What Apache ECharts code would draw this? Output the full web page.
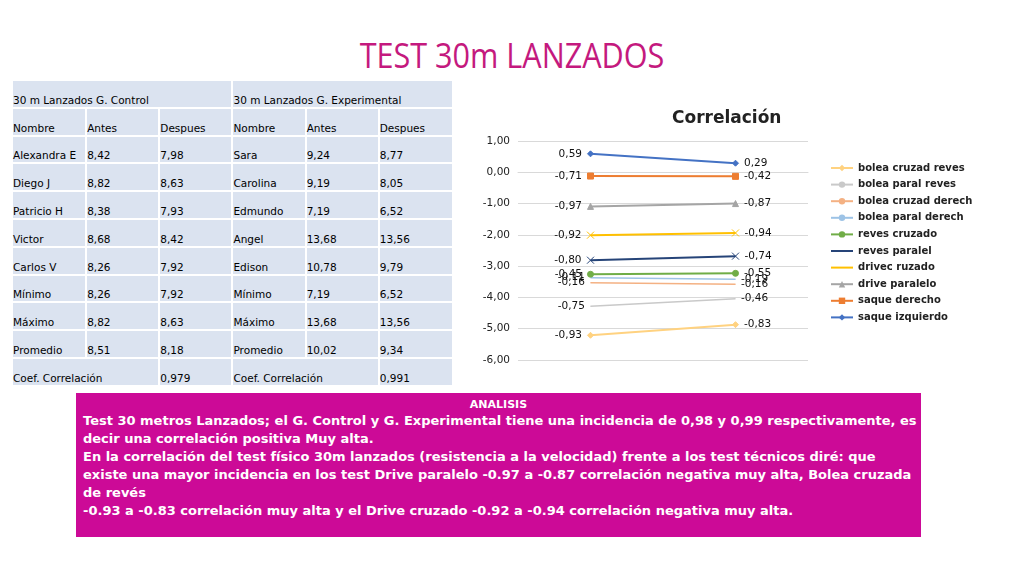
<!DOCTYPE html>
<html><head><meta charset="utf-8">
<script src="https://cdn.jsdelivr.net/npm/echarts@6/dist/echarts.min.js"></script>
<style>
body{margin:0;width:1024px;height:576px;background:#fff;font-family:"Open Sans","DejaVu Sans",sans-serif;position:relative;overflow:hidden}
#title{position:absolute;top:32px;left:0;width:1024px;text-align:center;color:#c4197e;font-size:34px;font-family:"Open Sans",sans-serif;transform:scaleX(0.9)}
table{position:absolute;left:13px;top:81px;width:439px;table-layout:fixed;border-collapse:collapse;font-size:10.5px;font-family:"DejaVu Sans",sans-serif;color:#000}
td{background:#dbe3f0;height:24.8px;padding:0;border-bottom:2px solid #fff;vertical-align:bottom;padding-bottom:1px;white-space:nowrap;overflow:visible}
td.s{border-right:2px solid #fff}
#chart{position:absolute;left:470px;top:100px;width:540px;height:280px}
#box{position:absolute;left:76px;top:393px;width:845px;height:144px;background:#cc0a97;color:#fff;font-family:"DejaVu Sans",sans-serif;font-weight:bold}
#box .h{text-align:center;font-size:11px;margin-top:5px}
#box .t{font-size:13px;line-height:18px;padding-left:7px;margin-top:1px}
</style></head><body>
<div id="title">TEST 30m LANZADOS</div>
<table id="tbl"></table>
<div id="chart"></div>
<div id="box"><div class="h">ANALISIS</div><div class="t">Test 30 metros Lanzados; el G. Control y G. Experimental tiene una incidencia de 0,98 y 0,99 respectivamente, es decir una correlación positiva Muy alta.<br>En la correlación del test físico 30m lanzados (resistencia a la velocidad) frente a los test técnicos diré: que existe una mayor incidencia en los test Drive paralelo -0.97 a -0.87 correlación negativa muy alta, Bolea cruzada de revés<br>-0.93 a -0.83 correlación muy alta y el Drive cruzado -0.92 a -0.94 correlación negativa muy alta.</div></div>
<script>
// table data
const headerRow = ["Nombre","Antes","Despues","Nombre","Antes","Despues"];
const controlNames = ["Alexandra E","Diego J","Patricio H","Victor","Carlos V","Mínimo","Máximo","Promedio"];
const controlAntes = ["8,42","8,82","8,38","8,68","8,26","8,26","8,82","8,51"];
const controlDespues = ["7,98","8,63","7,93","8,42","7,92","7,92","8,63","8,18"];
const expNames = ["Sara","Carolina","Edmundo","Angel","Edison","Mínimo","Máximo","Promedio"];
const expAntes = ["9,24","9,19","7,19","13,68","10,78","7,19","13,68","10,02"];
const expDespues = ["8,77","8,05","6,52","13,56","9,79","6,52","13,56","9,34"];
const coefControl = "0,979", coefExp = "0,991";

// chart data (stack order: first = top)
const categories = ["Antes","Despues"];
const seriesNames = ["saque izquierdo","saque derecho","drive paralelo","drivec ruzado","reves paralel","reves cruzado","bolea paral derech","bolea cruzad derech","bolea paral reves","bolea cruzad reves"];
const valAntes = [0.59,-0.71,-0.97,-0.92,-0.80,-0.45,-0.11,-0.16,-0.75,-0.93];
const valDespues = [0.29,-0.42,-0.87,-0.94,-0.74,-0.55,-0.19,-0.16,-0.46,-0.83];
const legendOrder = ["bolea cruzad reves","bolea paral reves","bolea cruzad derech","bolea paral derech","reves cruzado","reves paralel","drivec ruzado","drive paralelo","saque derecho","saque izquierdo"];
const colors = ["#4472c4","#ed7d31","#a5a5a5","#ffc000","#264478","#70ad47","#9dc3e6","#f4b183","#c9c9c9","#ffd280"];
const symbols = ["diamond","rect","triangle","path://M0,0L10,10M10,0L0,10","path://M0,0L10,10M10,0L0,10","circle","none","none","none","diamond"];
// label offsets [left point, right point]
const offA = [[-10,-8],[-10,-2],[-10,-4],[-10,0],[-10,-6],[30,-14],[-8,-4],[-8,4],[-8,2],[-8,0]];
const offB = [[-14,-14],[-2,-2],[6,6],[6,-14],[6,-6],[6,-6],[6,-4],[6,8],[6,4],[6,-10]];

let html='<colgroup>'+'<col style="width:73px">'.repeat(6)+'</colgroup>';
html+='<tr><td colspan="3" class="s">30 m Lanzados G. Control</td><td colspan="3">30 m Lanzados G. Experimental</td></tr><tr>';
headerRow.forEach((h,i)=>html+=`<td class="${i==2||i==5?(i==2?'s':''):'s'}">${h}</td>`);
html+='</tr>';
for(let i=0;i<controlNames.length;i++){
 html+=`<tr><td class="s">${controlNames[i]}</td><td class="s">${controlAntes[i]}</td><td class="s">${controlDespues[i]}</td><td class="s">${expNames[i]}</td><td class="s">${expAntes[i]}</td><td>${expDespues[i]}</td></tr>`;
}
html+=`<tr><td colspan="2" class="s">Coef. Correlación</td><td class="s">${coefControl}</td><td colspan="2" class="s">Coef. Correlación</td><td>${coefExp}</td></tr>`;
document.getElementById('tbl').innerHTML=html;

const fmt=v=>v.toFixed(2).replace('.',',');
const series = seriesNames.map((n,i)=>{
  const none = symbols[i]==='none';
  return {
  name:n,type:'line',stack:'s',stackStrategy:'all',
  data:[
    {value:valAntes[i],label:{position:'left',offset:offA[i]}},
    {value:valDespues[i],label:{position:'right',offset:offB[i]}}
  ],
  symbol:none?'circle':symbols[i],symbolSize:none?0.1:(symbols[i].startsWith('path')?7:6),
  lineStyle:{color:colors[i],width:i>=6&&i<=8?1.5:2},
  itemStyle:{color:colors[i],borderColor:colors[i]},
  labelLayout:{hideOverlap:false},
  label:{show:true,formatter:p=>fmt(p.value),color:'#111',fontSize:10.5,fontFamily:'DejaVu Sans'}
}});
const chart=echarts.init(document.getElementById('chart'));
chart.setOption({
  animation:false,
  title:{text:'Correlación',left:197,top:5,textStyle:{fontSize:17,fontWeight:'bold',color:'#222',fontFamily:'DejaVu Sans'}},
  grid:{left:48,top:41,width:290,height:219},
  xAxis:{type:'category',data:categories,axisLabel:{show:false},axisTick:{show:false},axisLine:{lineStyle:{color:'#d9d9d9'}}},
  yAxis:{type:'value',min:-6,max:1,interval:1,axisLabel:{formatter:v=>fmt(v),fontSize:10.5,color:'#222',fontFamily:'DejaVu Sans'},splitLine:{lineStyle:{color:'#d9d9d9'}}},
  legend:{orient:'vertical',left:355,top:58,data:legendOrder,itemGap:6.6,itemWidth:22,itemHeight:8,textStyle:{fontSize:10,fontWeight:'bold',color:'#222',fontFamily:'DejaVu Sans'}},
  color:colors,
  series
});
</script>
</body></html>
